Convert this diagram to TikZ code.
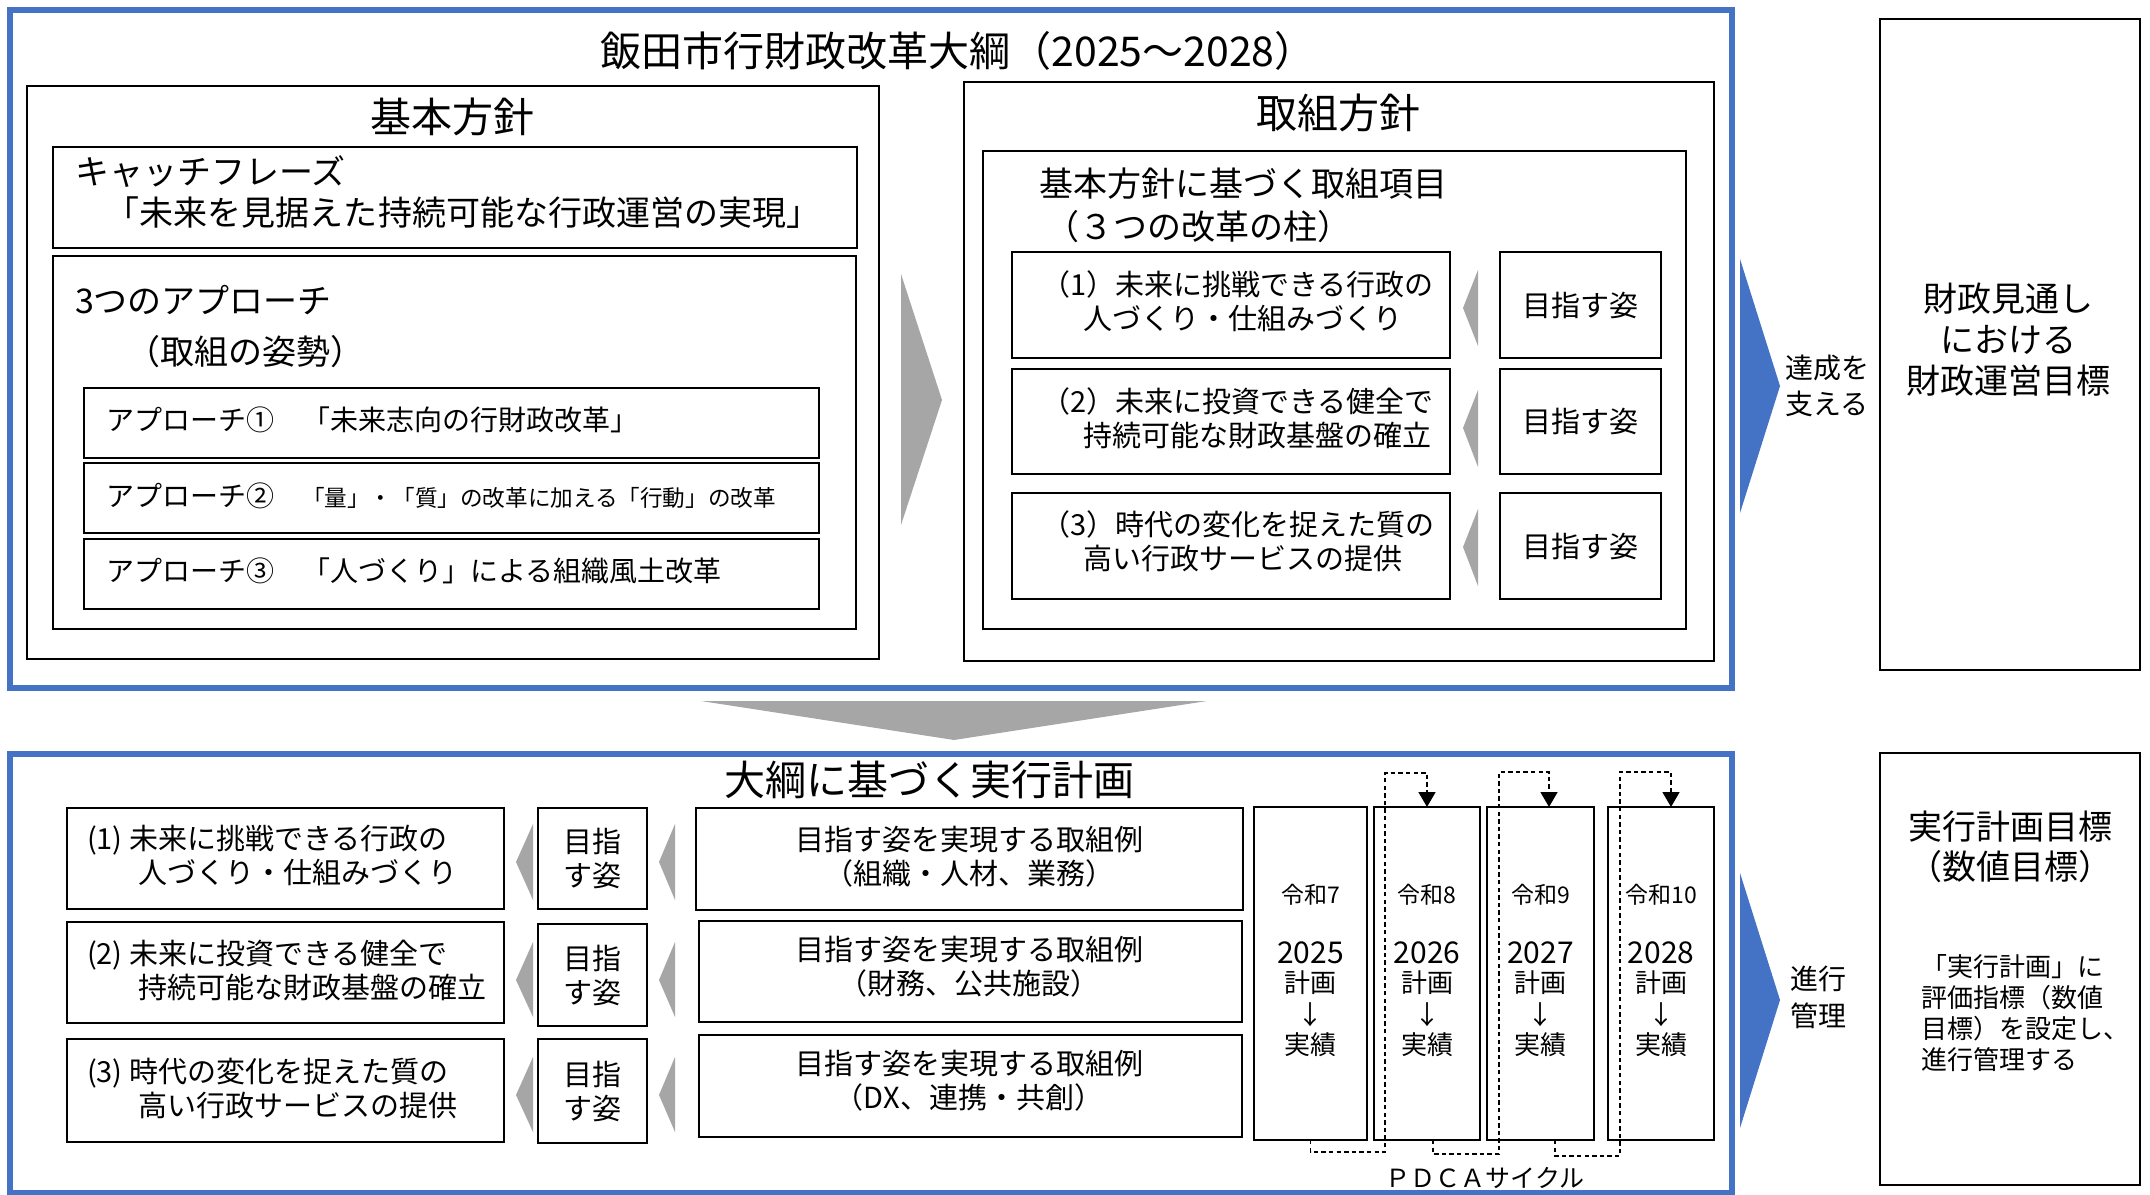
\documentclass[tikz,border=0pt]{standalone}
\usepackage{fontspec}
\setmainfont{Noto Sans CJK JP}
\usetikzlibrary{arrows.meta,calc,fit}
\definecolor{frameblue}{HTML}{4472C4}
\definecolor{arrgray}{HTML}{A6A6A6}
\newcommand\fsz[2]{\fontsize{#1bp}{#2bp}\selectfont}
\begin{document}
\begin{tikzpicture}[x=0.5bp,y=-0.5bp,
  box/.style={draw=black,line width=1.3bp,inner sep=0pt,outer sep=0pt,rectangle},
  bframe/.style={draw=frameblue,line width=2.6bp,inner sep=0pt,outer sep=0pt,rectangle},
  lbl/.style={inner sep=0pt,outer sep=0pt,align=center},
  lbll/.style={inner sep=0pt,outer sep=0pt,align=left,anchor=west},
  hd/.style={font=\fsz{20.5}{24}},
  big/.style={font=\fsz{17}{20.5}},
  mid/.style={font=\fsz{14.5}{17}},
  pdca/.style={densely dashed,line width=0.8bp,dash pattern=on 2.2bp off 1.6bp,-{Triangle[width=8.5bp,length=7.5bp]}},
  garrow/.style={fill=arrgray,draw=none},
  barrow/.style={fill=frameblue,draw=none}]
\useasboundingbox (0,0) rectangle (2150,1195);
\fill[white] (0,0) rectangle (2150,1195);

% ===== upper frame =====
\node[bframe,fit={(10,10) (1732,688)}] (topframe) {};
\node[lbl,hd] (title) at (958,51) {飯田市行財政改革大綱（2025～2028）};

% basic policy
\node[box,fit={(27,86) (879,659)}] (kihon) {};
\node[lbl,hd] (kihonT) at (452,117) {基本方針};
\node[box,fit={(53,147) (857,248)}] (catch) {};
\node[lbll,big] (catchT) at (75,172) {キャッチフレーズ};
\node[lbl,big] (catchP) at (463,213) {「未来を見据えた持続可能な行政運営の実現」};
\node[box,fit={(53,256) (856,629)}] (appr) {};
\node[lbll,big] (apprT) at (75,300) {3つのアプローチ};
\node[lbll,big] (apprS) at (126,352) {（取組の姿勢）};
\node[box,fit={(84,388) (819,458)}] (ap1) {};
\node[box,fit={(84,463) (819,533)}] (ap2) {};
\node[box,fit={(84,539) (819,609)}] (ap3) {};
\node[lbll,font=\fsz{14}{17}] (ap1T) at (106,420) {アプローチ①　「未来志向の行財政改革」};
\node[lbll,font=\fsz{14}{17}] (ap2T) at (106,496) {アプローチ②　{\fsz{11.3}{14}「量」・「質」の改革に加える「行動」の改革}};
\node[lbll,font=\fsz{14}{17}] (ap3T) at (106,571) {アプローチ③　「人づくり」による組織風土改革};

% gray arrow between
\fill[garrow] (901,274) -- (942,400) -- (901,525) -- cycle;

% torikumi policy
\node[box,fit={(964,82) (1714,661)}] (tori) {};
\node[lbl,hd] (toriT) at (1338,113) {取組方針};
\node[box,fit={(983,151) (1686,629)}] (kou) {};
\node[lbll,big] (kouT) at (1039,184) {基本方針に基づく取組項目};
\node[lbll,big] (kouS) at (1045,227) {（３つの改革の柱）};

\node[box,fit={(1012,252) (1450,358)}] (it1) {};
\node[box,fit={(1012,369) (1450,474)}] (it2) {};
\node[box,fit={(1012,493) (1450,599)}] (it3) {};
\node[lbll,mid] (it1T) at (1041,301.5) {（1）未来に挑戦できる行政の\\\hspace*{21bp}人づくり・仕組みづくり};
\node[lbll,mid] (it2T) at (1041,418) {（2）未来に投資できる健全で\\\hspace*{21bp}持続可能な財政基盤の確立};
\node[lbll,mid] (it3T) at (1041,541.5) {（3）時代の変化を捉えた質の\\\hspace*{21bp}高い行政サービスの提供};

\fill[garrow] (1478,270) -- (1463,308) -- (1478,346) -- cycle;
\fill[garrow] (1478,390) -- (1463,428) -- (1478,467) -- cycle;
\fill[garrow] (1478,509) -- (1463,547) -- (1478,586) -- cycle;

\node[box,fit={(1500,252) (1661,358)}] (ms1) {};
\node[box,fit={(1500,369) (1661,474)}] (ms2) {};
\node[box,fit={(1500,493) (1661,599)}] (ms3) {};
\node[lbl,mid] at (ms1.center) {目指す姿};
\node[lbl,mid] at (ms2.center) {目指す姿};
\node[lbl,mid] at (ms3.center) {目指す姿};

% blue arrow top
\fill[barrow] (1740,259) -- (1780,386) -- (1740,513) -- cycle;
\node[lbl,font=\fsz{14}{18}] (support) at (1827,386) {達成を\\支える};

\node[box,fit={(1880,19) (2140,670)}] (fin) {};
\node[lbl,font=\fsz{17}{20.5}] (finT) at (2008,340) {財政見通し\\における\\財政運営目標};

% chevron down
\fill[garrow] (701,701) -- (1207,701) -- (954,740) -- cycle;

% ===== lower frame =====
\node[bframe,fit={(10,754) (1732,1193)}] (botframe) {};
\node[lbl,hd] (planT) at (929,780) {大綱に基づく実行計画};

\node[box,fit={(67,808) (504,909)}] (L1) {};
\node[box,fit={(67,922) (504,1023)}] (L2) {};
\node[box,fit={(67,1039) (504,1142)}] (L3) {};
\node[lbll,mid] (L1T) at (87,855) {(1) 未来に挑戦できる行政の\\\hspace*{25.5bp}人づくり・仕組みづくり};
\node[lbll,mid] (L2T) at (87,970) {(2) 未来に投資できる健全で\\\hspace*{25.5bp}持続可能な財政基盤の確立};
\node[lbll,mid] (L3T) at (87,1088.5) {(3) 時代の変化を捉えた質の\\\hspace*{25.5bp}高い行政サービスの提供};

\fill[garrow] (533,824) -- (516,862) -- (533,900) -- cycle;
\fill[garrow] (533,942) -- (516,980) -- (533,1017) -- cycle;
\fill[garrow] (533,1057) -- (516,1095) -- (533,1132) -- cycle;

\node[box,fit={(538,808) (647,909)}] (M1) {};
\node[box,fit={(538,924) (647,1026)}] (M2) {};
\node[box,fit={(538,1039) (647,1143)}] (M3) {};
\node[lbl,mid] at (M1.center) {目指\\す姿};
\node[lbl,mid] at (M2.center) {目指\\す姿};
\node[lbl,mid] at (M3.center) {目指\\す姿};

\fill[garrow] (675,824) -- (659,862) -- (675,900) -- cycle;
\fill[garrow] (675,942) -- (659,980) -- (675,1017) -- cycle;
\fill[garrow] (675,1057) -- (659,1095) -- (675,1132) -- cycle;

\node[box,fit={(696,808) (1243,910)}] (E1) {};
\node[box,fit={(699,921) (1242,1022)}] (E2) {};
\node[box,fit={(699,1035) (1242,1137)}] (E3) {};
\node[lbl,mid] (E1T) at (969,856.5) {目指す姿を実現する取組例\\（組織・人材、業務）};
\node[lbl,mid] (E2T) at (969,966.5) {目指す姿を実現する取組例\\（財務、公共施設）};
\node[lbl,mid] (E3T) at (969,1080.5) {目指す姿を実現する取組例\\（DX、連携・共創）};

% year boxes
\node[box,fit={(1254,807) (1367,1140)}] (Y1) {};
\node[box,fit={(1374,807) (1480,1140)}] (Y2) {};
\node[box,fit={(1487,807) (1594,1140)}] (Y3) {};
\node[box,fit={(1608,807) (1714,1140)}] (Y4) {};
\foreach \i/\yr/\rw in {1/2025/7,2/2026/8,3/2027/9,4/2028/10}{
  \node[lbl,font=\fsz{11.5}{14}] (rw\i) at ($(Y\i.north)+(0,88)$) {令和\rw};
  \node[lbl,font=\fsz{15}{17}] (yr\i) at ($(Y\i.north)+(0,146)$) {\yr};
  \node[lbl,font=\fsz{13}{15}] (pl\i) at ($(Y\i.north)+(0,176)$) {計画};
  \node[lbl,font=\fsz{13}{15}] (ar\i) at ($(Y\i.north)+(0,208)$) {↓};
  \node[lbl,font=\fsz{13}{15}] (ac\i) at ($(Y\i.north)+(0,238)$) {実績};
}
\coordinate (w1) at (1385,773);
\coordinate (w2) at (1499,772);
\coordinate (w3) at (1620,772);
\draw[pdca] (Y1.south) -- ++(0,12) -| (w1) -| (Y2.north);
\draw[pdca] ([xshift=3bp]Y2.south) -- ++(0,14) -| (w2) -| ([xshift=4.25bp]Y3.north);
\draw[pdca] ([xshift=7.25bp]Y3.south) -- ++(0,16) -| (w3) -| ([xshift=5bp]Y4.north);
\node[lbl,font=\fsz{12.5}{15}] (pdcaT) at (1485,1178) {ＰＤＣＡサイクル};

% blue arrow bottom
\fill[barrow] (1740,873) -- (1780,1000) -- (1740,1128) -- cycle;
\node[lbl,font=\fsz{14}{18.5}] (prog) at (1818,997) {進行\\管理};

\node[box,fit={(1880,753) (2140,1185)}] (tgt) {};
\node[lbl,font=\fsz{17}{20}] (tgtT) at (2010,847) {実行計画目標\\（数値目標）};
\node[lbll,font=\fsz{13}{15.5},anchor=west] (tgtS) at (1921,1013.5) {「実行計画」に\\評価指標（数値\\目標）を設定し、\\進行管理する};
\end{tikzpicture}
\end{document}
